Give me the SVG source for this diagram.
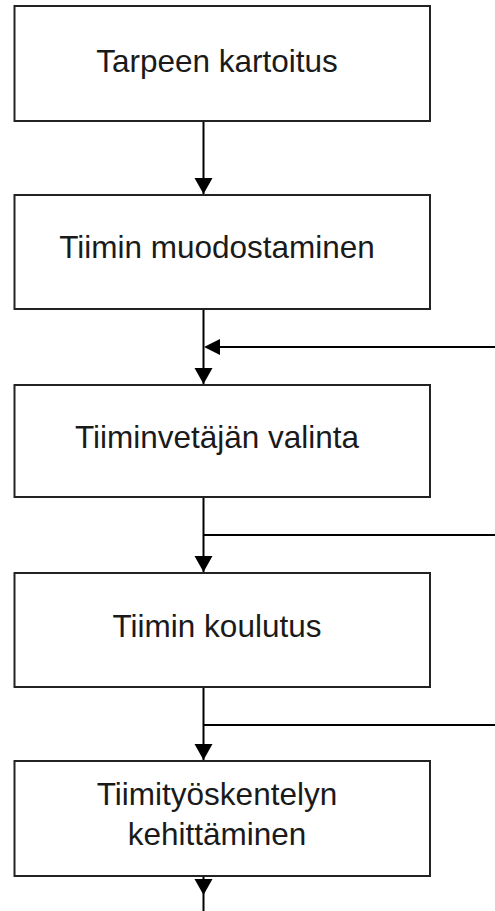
<svg xmlns="http://www.w3.org/2000/svg" xmlns:xlink="http://www.w3.org/1999/xlink" width="495" height="911" viewBox="0 0 495 911">
<style>
.box{fill:#fff;stroke:#222;stroke-width:2}
.lbl{font-family:"Liberation Sans",Arial,sans-serif;font-size:31.5px;fill:#1a1a1a;text-anchor:middle}
.ln{stroke:#000;stroke-width:2;fill:none}
</style>
<defs>
<polygon id="ad" points="-9,-16 9,-16 0,0" fill="#000"/>
<polygon id="al" points="16,-8 16,8 0,0" fill="#000"/>
</defs>
<rect width="495" height="911" fill="#fff"/>
<g id="connectors">
<line class="ln" x1="203.5" y1="121" x2="203.5" y2="194"/>
<line class="ln" x1="203.5" y1="309" x2="203.5" y2="384"/>
<line class="ln" x1="218" y1="347" x2="495" y2="347"/>
<line class="ln" x1="203.5" y1="497" x2="203.5" y2="572"/>
<line class="ln" x1="203.5" y1="535" x2="495" y2="535"/>
<line class="ln" x1="203.5" y1="687" x2="203.5" y2="760"/>
<line class="ln" x1="203.5" y1="725" x2="495" y2="725"/>
<line class="ln" x1="203.5" y1="876" x2="203.5" y2="911"/>
<use xlink:href="#ad" x="203.5" y="194"/>
<use xlink:href="#al" x="204" y="347"/>
<use xlink:href="#ad" x="203.5" y="384"/>
<use xlink:href="#ad" x="203.5" y="572"/>
<use xlink:href="#ad" x="203.5" y="760"/>
<use xlink:href="#ad" x="203.5" y="895"/>
</g>
<g id="n1"><rect class="box" x="14.5" y="6" width="415.5" height="115"/><text class="lbl" x="217" y="72">Tarpeen kartoitus</text></g>
<g id="n2"><rect class="box" x="14.5" y="195" width="415.5" height="114"/><text class="lbl" x="217" y="258">Tiimin muodostaminen</text></g>
<g id="n3"><rect class="box" x="14.5" y="385" width="415.5" height="112"/><text class="lbl" x="217" y="448">Tiiminvetäjän valinta</text></g>
<g id="n4"><rect class="box" x="14.5" y="573" width="415.5" height="114"/><text class="lbl" x="217" y="637">Tiimin koulutus</text></g>
<g id="n5"><rect class="box" x="14.5" y="761" width="415.5" height="115"/><text class="lbl" x="217" y="805">Tiimityöskentelyn</text><text class="lbl" x="217" y="845">kehittäminen</text></g>
</svg>
